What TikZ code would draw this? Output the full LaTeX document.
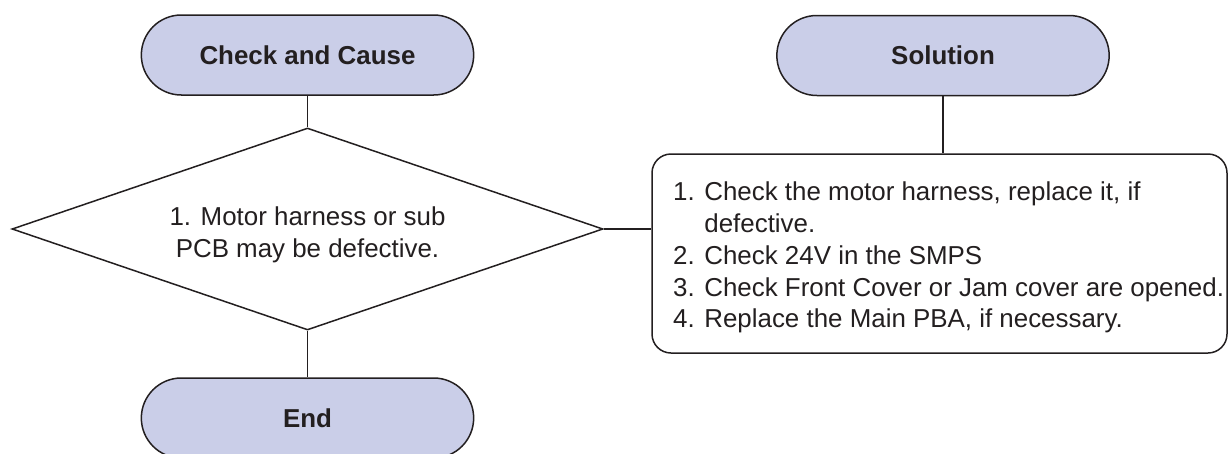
\documentclass[tikz,border=0pt]{standalone}
\usepackage{fontspec}
\setmainfont{Liberation Sans}
\usetikzlibrary{shapes.geometric,shapes.misc}
\definecolor{term}{HTML}{CACEE8}
\definecolor{ink}{HTML}{231F20}
\tikzset{
  terminal/.style={rounded rectangle, draw=ink, fill=term, line width=1.5pt,
    minimum width=339pt, minimum height=80pt, text=ink,
    font=\fontsize{25.9}{31.7}\selectfont\bfseries},
  decision/.style={diamond, draw=ink, line width=1.5pt,
    minimum width=591pt, minimum height=202pt, inner sep=0pt},
  solbox/.style={draw=ink, line width=1.5pt, rounded corners=19pt,
    minimum width=575pt, minimum height=199pt},
  txt/.style={font=\fontsize{25.9}{31.7}\selectfont, text=ink, inner sep=0pt},
  link/.style={draw=ink, line width=1.5pt}
}

\begin{document}
\begin{tikzpicture}[x=1pt,y=-1pt]
  \useasboundingbox (0,0) rectangle (1228,453);

  % Check and Cause column
  \node[terminal] (check) at (307.5,55) {Check and Cause};
  \node[decision] (cause) at (307.5,229) {};
  \node[txt,align=center,anchor=north] (causetxt) at (307.5,207)
    {1. Motor harness or sub\\PCB may be defective.};
  \node[terminal] (end) at (307.5,418) {End};

  % Solution column
  \node[terminal] (solution) at (943,55.5) {Solution};
  \node[solbox] (fix) at (939.5,253.5) {};
  \node[txt,align=left,anchor=north west] (fixtxt) at (673,182) {%
    1. Check the motor harness, replace it, if\\
    \phantom{1. }defective.\\
    2. Check 24V in the SMPS\\
    3. Check Front Cover or Jam cover are opened.\\
    4. Replace the Main PBA, if necessary.};

  % connectors
  \draw[link] (check.south) -- (cause.north);
  \draw[link] (cause.south) -- (end.north);
  \draw[link] (cause.east) -- (cause.east -| fix.west);
  \draw[link] (solution.south) -- (solution.south |- fix.north);
\end{tikzpicture}
\end{document}
